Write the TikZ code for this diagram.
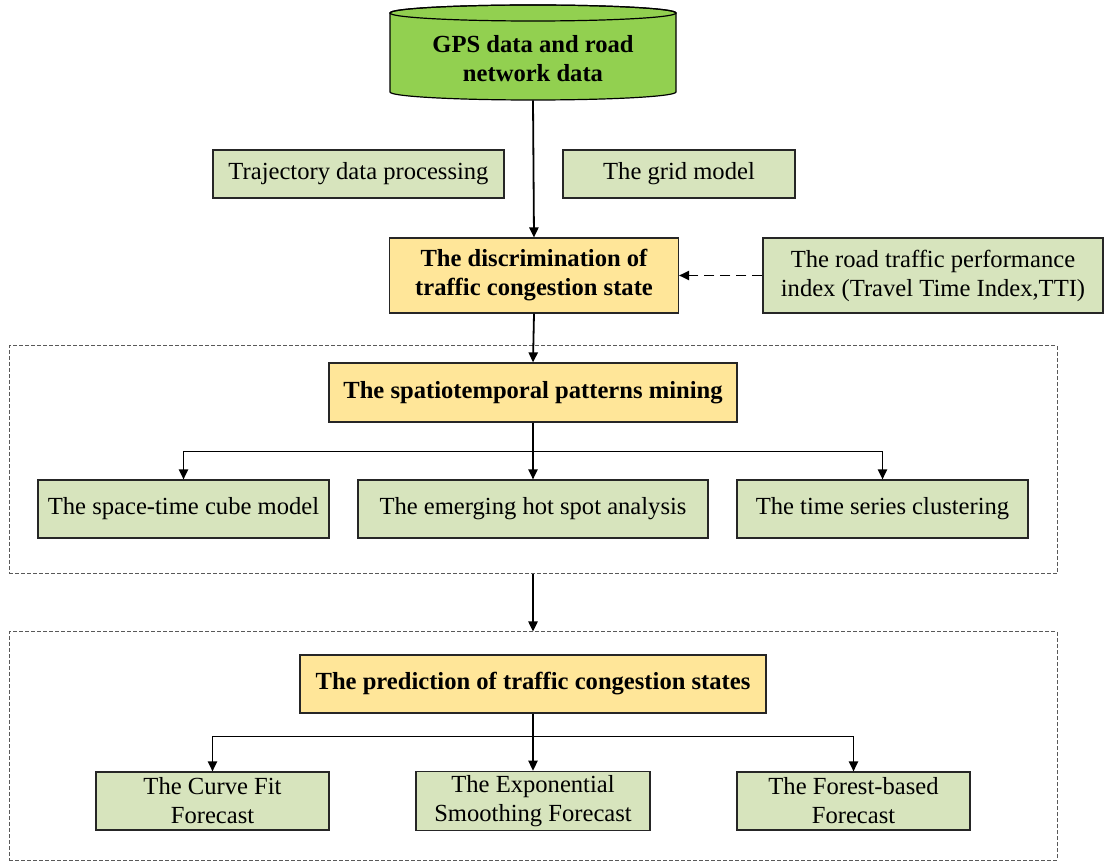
\documentclass[tikz,border=0pt]{standalone}
\usepackage{fontspec}
\setmainfont{Liberation Serif}
\usepackage{tikz}
\usetikzlibrary{arrows.meta}
\definecolor{gpsgreen}{HTML}{92D050}
\definecolor{boxgreen}{HTML}{D7E4BD}
\definecolor{boxyellow}{HTML}{FFE699}
\definecolor{framegray}{HTML}{595959}
\begin{document}
\begin{tikzpicture}[x=0.5pt,y=-0.5pt,
	every node/.style={font=\fontsize{12.3}{14.5}\selectfont, align=center, inner sep=2pt},
	subbox/.style={draw=black!85, line width=0.6pt, fill=boxgreen},
	mainbox/.style={draw=black!85, line width=0.6pt, fill=boxyellow, font=\fontsize{12.3}{14.5}\selectfont\bfseries},
	stage/.style={draw=framegray, line width=0.5pt, dash pattern=on 2pt off 1pt},
	arr/.style={line width=0.9pt, -{Triangle[length=5pt,width=4.6pt]}}]
	\useasboundingbox (0,0) rectangle (1105,861);
	% data source
	\node[inner sep=0pt, minimum width=143pt, minimum height=43.5pt] (gps) at (533,56.5) {};
	\draw [line width=0.6pt, fill=gpsgreen] (390,13) -- (390,92) arc[start angle=180, end angle=360, x radius=71.5pt, y radius=4pt] -- (676,13) arc[start angle=0, end angle=180, x radius=71.5pt, y radius=4pt] -- cycle;
	\draw [line width=0.6pt] (533,13) ellipse[x radius=71.5pt, y radius=4pt];
	\node[font=\fontsize{12.3}{14.5}\selectfont\bfseries] at ([yshift=-1pt]gps.center) {GPS data and road\\network data};
	\node[subbox, minimum width=145.5pt, minimum height=24pt] (traj) at (358.5,174) {Trajectory data processing};
	\node[subbox, minimum width=116pt, minimum height=24pt] (grid) at (679,174) {The grid model};
	\node[mainbox, minimum width=144.5pt, minimum height=37.5pt] (disc) at (534,275.5) {The discrimination of\\traffic congestion state};
	\node[subbox, minimum width=170pt, minimum height=37.5pt] (tti) at (933,275.5) {The road traffic performance\\index (Travel Time Index,TTI)};
	% stage frames
	\node[stage, minimum width=524pt, minimum height=114pt] (mining) at (533,460) {};
	\node[stage, minimum width=524pt, minimum height=114pt] (forecast) at (533,746) {};
	% mining
	\node[mainbox, minimum width=204pt, minimum height=29.5pt] (spt) at (533,392.5) {The spatiotemporal patterns mining};
	\node[subbox, minimum width=145.5pt, minimum height=29pt] (cube) at (183.5,509) {The space-time cube model};
	\node[subbox, minimum width=175pt, minimum height=29pt] (hot) at (533,509) {The emerging hot spot analysis};
	\node[subbox, minimum width=145.5pt, minimum height=29pt] (clus) at (882.5,509) {The time series clustering};
	% prediction
	\node[mainbox, minimum width=233pt, minimum height=29pt] (pred) at (533,684) {The prediction of traffic congestion states};
	\node[subbox, minimum width=116.5pt, minimum height=29pt] (curve) at (212.5,801) {The Curve Fit\\Forecast};
	\node[subbox, minimum width=117pt, minimum height=29pt] (expo) at (533,801) {The Exponential\\Smoothing Forecast};
	\node[subbox, minimum width=116.5pt, minimum height=29pt] (forest) at (853.5,801) {The Forest-based\\Forecast};
	% connectors
	\draw[arr] (gps.south) -- (disc.north);
	\draw[arr, dash pattern=on 5pt off 3pt] (tti.west) -- (disc.east);
	\draw[arr] (disc.south) -- (spt.north);
	\draw[arr] (spt.south) -- ++(0,29) -| (cube.north);
	\draw[arr] (spt.south) -- ++(0,29) -| (clus.north);
	\draw[arr] (spt.south) -- (hot.north);
	\draw[arr] (mining.south) -- (forecast.north);
	\draw[arr] (pred.south) -- ++(0,23) -| (curve.north);
	\draw[arr] (pred.south) -- ++(0,23) -| (forest.north);
	\draw[arr] (pred.south) -- (expo.north);
\end{tikzpicture}
\end{document}
